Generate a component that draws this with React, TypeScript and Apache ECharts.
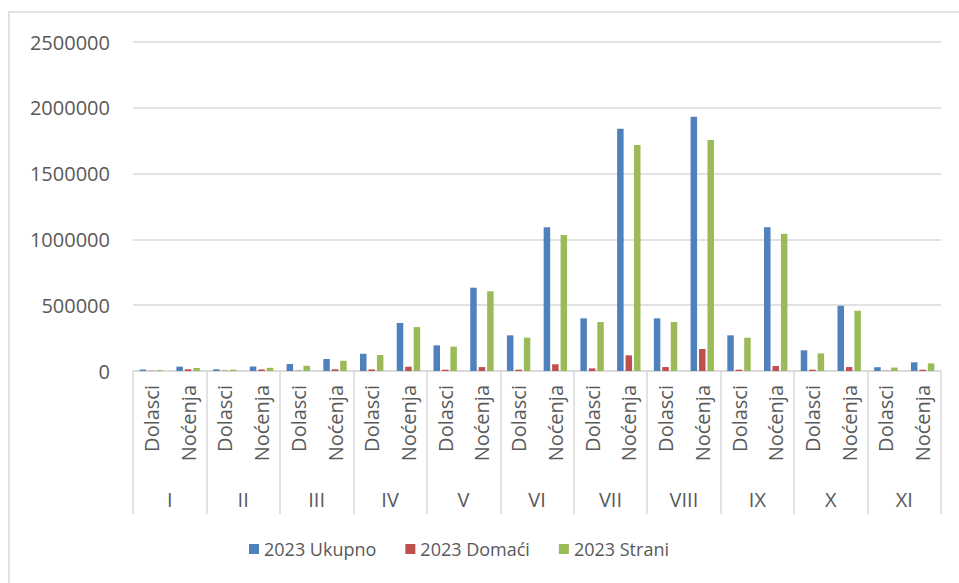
import React, { useEffect, useRef } from "react";
import * as echarts from "echarts";

const months = ["I", "II", "III", "IV", "V", "VI", "VII", "VIII", "IX", "X", "XI"];
const subCategories = ["Dolasci", "Noćenja"];
const categories: string[] = months.flatMap(() => subCategories);

const seriesNames = ["2023 Ukupno", "2023 Domaći", "2023 Strani"];

// Order: I Dolasci, I Noćenja, II Dolasci, II Noćenja, ...
const ukupno = [
  11000, 33000, 13000, 35000, 53000, 91000, 131000, 365000, 195000, 633000, 271000,
  1092000, 400000, 1841000, 400000, 1932000, 271000, 1092000, 157000, 496000, 29000, 66000,
];
const domaci = [
  2000, 13000, 3000, 12000, 3000, 13000, 12000, 33000, 10000, 30000, 10000, 51000, 20000,
  119000, 30000, 167000, 10000, 38000, 10000, 30000, 2000, 10000,
];
const strani = [
  7000, 23000, 10000, 24000, 40000, 78000, 121000, 334000, 185000, 606000, 253000, 1033000,
  372000, 1717000, 372000, 1755000, 253000, 1043000, 134000, 458000, 26000, 58000,
];

const yTicks = { min: 0, max: 2500000, interval: 500000 };
const colors = ["#4F81BD", "#C0504D", "#9BBB59"];

const FONT = "'Open Sans', sans-serif";
const TEXT = "#595959";
const LINE = "#d9d9d9";

export default function App() {
  const ref = useRef<HTMLDivElement>(null);
  useEffect(() => {
    if (!ref.current) return;
    const chart = echarts.init(ref.current, null, { renderer: "svg" });
    const values = [ukupno, domaci, strani];
    chart.setOption({
      animation: false,
      backgroundColor: "#ffffff",
      color: colors,
      textStyle: { fontFamily: FONT },
      grid: { left: 133, right: 18, top: 42, bottom: 212, containLabel: false },
      legend: {
        bottom: 20,
        left: 244,
        itemWidth: 10,
        itemHeight: 10,
        itemGap: 29,
        icon: "rect",
        textStyle: { color: TEXT, fontSize: 18, fontFamily: FONT },
        data: seriesNames,
      },
      xAxis: [
        {
          type: "category",
          data: categories,
          position: "bottom",
          axisLine: { show: true, lineStyle: { color: LINE, width: 1.5 } },
          axisTick: { show: false },
          axisLabel: {
            rotate: 90,
            interval: 0,
            margin: 14,
            color: TEXT,
            fontSize: 20,
            fontFamily: FONT,
          },
        },
        {
          type: "category",
          data: months,
          position: "bottom",
          axisLine: { show: false },
          axisTick: { show: true, length: 143, lineStyle: { color: LINE, width: 1.5 } },
          axisLabel: {
            interval: 0,
            margin: 118,
            color: TEXT,
            fontSize: 20,
            fontFamily: FONT,
          },
        },
      ],
      yAxis: {
        type: "value",
        min: yTicks.min,
        max: yTicks.max,
        interval: yTicks.interval,
        axisLine: { show: false },
        axisTick: { show: false },
        splitLine: { lineStyle: { color: LINE, width: 1.5 } },
        axisLabel: {
          color: TEXT,
          fontSize: 20,
          margin: 23,
          fontFamily: FONT,
          formatter: (v: number) => String(v),
        },
      },
      graphic: [
        {
          type: "rect",
          shape: { x: 9, y: 12, width: 1200, height: 1200 },
          style: { fill: "none", stroke: LINE, lineWidth: 1.5 },
          silent: true,
          z: -1,
        },
      ],
      series: seriesNames.map((name, i) => ({
        name,
        type: "bar",
        xAxisIndex: 0,
        data: values[i],
        barWidth: 6.5,
        barGap: "30%",
        itemStyle: { color: colors[i] },
      })),
    });
    return () => chart.dispose();
  }, []);
  return (
    <div
      ref={ref}
      style={{ position: "fixed", left: 0, top: 0, width: 959, height: 583 }}
    />
  );
}
